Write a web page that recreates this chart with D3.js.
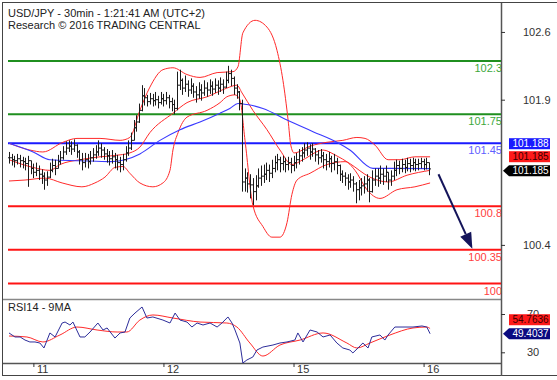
<!DOCTYPE html>
<html><head><meta charset="utf-8">
<script src="https://cdn.jsdelivr.net/npm/d3@7"></script>
<style>body{margin:0;background:#fff}svg{display:block;font-family:"Liberation Sans",Arial,sans-serif}</style>
</head><body><svg id="c" width="557" height="380"></svg>
<script>
// ---------- DATA ----------
const titleLines = ["USD/JPY - 30min - 1:21:41 AM (UTC+2)", "Research \u00a9 2016 TRADING CENTRAL"];
const rsiTitle = "RSI14 - 9MA";
const dayLabels = ["11", "12", "15", "16"];
const dayBarIndex = [9, 57, 105, 153];
const priceTicks = [102.6, 101.9, 100.4];
const rsiTicks = [70, 30];

const closes = [101.30,101.28,101.27,101.29,101.27,101.26,101.24,101.27,101.19,101.15,
101.17,101.13,101.11,101.07,101.10,101.17,101.22,101.19,101.26,101.30,
101.36,101.40,101.42,101.39,101.43,101.36,101.28,101.25,101.28,101.26,
101.30,101.33,101.36,101.40,101.38,101.34,101.32,101.29,101.31,101.28,
101.25,101.23,101.28,101.35,101.40,101.48,101.61,101.67,101.79,101.94,
101.92,101.88,101.91,101.89,101.90,101.87,101.91,101.89,101.92,101.88,
101.85,101.81,102.05,102.10,102.02,102.06,102.00,102.04,101.98,101.95,
102.00,101.97,102.02,102.00,102.04,102.01,102.05,102.02,102.06,102.03,
102.10,102.17,102.12,102.02,101.98,101.86,101.05,101.09,101.03,101.02,
100.95,101.01,101.09,101.11,101.13,101.17,101.14,101.19,101.25,101.28,
101.24,101.26,101.23,101.25,101.22,101.25,101.28,101.32,101.35,101.38,
101.40,101.36,101.39,101.33,101.30,101.32,101.28,101.26,101.29,101.24,
101.26,101.22,101.13,101.11,101.09,101.05,101.07,101.03,100.97,100.99,
101.01,101.03,101.07,100.95,101.07,101.11,101.09,101.13,101.11,101.15,
101.07,101.11,101.17,101.22,101.19,101.23,101.20,101.24,101.22,101.25,
101.23,101.24,101.26,101.23,101.25,101.185];

const highs = [101.36,101.34,101.32,101.34,101.33,101.31,101.30,101.32,101.27,101.24,
101.25,101.22,101.18,101.15,101.16,101.25,101.29,101.28,101.33,101.37,
101.42,101.47,101.48,101.47,101.49,101.44,101.38,101.35,101.35,101.34,
101.37,101.40,101.43,101.48,101.45,101.41,101.39,101.37,101.38,101.35,
101.33,101.31,101.34,101.42,101.48,101.56,101.69,101.74,101.86,102.05,
102.02,101.95,101.97,101.96,101.98,101.94,101.98,101.96,101.98,101.95,
101.92,101.90,102.19,102.21,102.12,102.15,102.10,102.12,102.07,102.04,
102.08,102.06,102.10,102.08,102.11,102.09,102.12,102.10,102.13,102.11,
102.19,102.25,102.21,102.14,102.06,101.99,101.90,101.19,101.15,101.13,
101.09,101.12,101.19,101.22,101.23,101.25,101.23,101.28,101.32,101.34,
101.31,101.32,101.30,101.31,101.30,101.32,101.35,101.39,101.41,101.45,
101.46,101.44,101.45,101.40,101.38,101.39,101.36,101.34,101.36,101.32,
101.34,101.30,101.23,101.17,101.15,101.13,101.14,101.11,101.05,101.07,
101.09,101.11,101.13,101.09,101.17,101.19,101.19,101.22,101.19,101.22,
101.15,101.17,101.26,101.28,101.27,101.29,101.28,101.30,101.29,101.30,
101.29,101.29,101.30,101.29,101.30,101.25];

const lows = [101.24,101.22,101.20,101.23,101.20,101.19,101.17,101.00,101.13,101.09,
101.11,101.07,101.03,100.97,101.01,101.09,101.15,101.12,101.19,101.23,
101.28,101.33,101.36,101.33,101.36,101.30,101.23,101.17,101.20,101.19,
101.23,101.26,101.29,101.32,101.30,101.28,101.25,101.22,101.24,101.19,
101.17,101.15,101.17,101.26,101.32,101.38,101.48,101.57,101.66,101.78,
101.84,101.83,101.85,101.83,101.84,101.81,101.85,101.83,101.85,101.81,
101.78,101.75,101.79,102.00,101.95,101.98,101.93,101.96,101.92,101.87,
101.91,101.89,101.94,101.93,101.96,101.94,101.97,101.95,101.98,101.96,
102.02,102.07,102.04,101.95,101.91,101.79,100.95,100.95,100.94,100.88,
100.81,100.86,100.99,101.01,101.04,101.07,101.05,101.09,101.15,101.17,
101.15,101.17,101.15,101.17,101.14,101.16,101.19,101.23,101.26,101.30,
101.32,101.28,101.31,101.26,101.23,101.25,101.19,101.17,101.20,101.15,
101.17,101.13,101.06,101.04,101.01,100.97,100.99,100.95,100.83,100.86,
100.91,100.93,100.95,100.84,100.94,101.01,101.00,101.03,101.02,101.05,
100.97,101.01,101.07,101.11,101.13,101.15,101.14,101.16,101.15,101.17,
101.16,101.17,101.19,101.17,101.18,101.12];

// Bollinger bands & moving average: [bar index, price]
const bbUpper = [[0,101.45],[7.7,101.38],[12.5,101.36],[19.9,101.46],[25.1,101.50],[33.6,101.50],[41,101.48],[44.6,101.51],[48.3,101.79],[52,102.03],[56.8,102.21],[60.5,102.23],[65.7,102.16],[70.5,102.13],[76.8,102.18],[82.7,102.19],[84.5,102.24],[86.3,102.59],[90.8,102.72],[95.2,102.65],[98.9,102.41],[101.1,102.10],[103,101.69],[104,101.43],[105.2,101.35],[111.1,101.42],[117.3,101.46],[123.2,101.48],[128.4,101.51],[131.4,101.50],[135.1,101.43],[139.9,101.28],[144.3,101.28],[149.8,101.31],[155.4,101.31]];
const bbMiddle = [[0,101.28],[8.9,101.20],[15.1,101.17],[18.8,101.23],[26.2,101.28],[33.6,101.31],[41,101.33],[44.6,101.35],[48.3,101.41],[52,101.56],[60.5,101.76],[65.7,101.87],[73.1,101.93],[80.4,102.02],[84.1,102.05],[86,101.97],[90,101.79],[95.2,101.59],[100,101.38],[104.4,101.23],[108.5,101.28],[115.9,101.38],[120.3,101.33],[125.8,101.24],[133.2,101.10],[139.9,101.05],[146.9,101.12],[155.4,101.17]];
const bbLower = [[0,101.06],[5.9,101.07],[13.3,101.09],[19.6,101.04],[26.9,101.00],[31.7,101.04],[35.4,101.10],[39.1,101.20],[42.1,101.21],[44.6,101.14],[48.3,101.04],[53.1,101.00],[56.8,101.04],[59.4,101.17],[60.5,101.38],[62.4,101.56],[65.7,101.72],[73.1,101.79],[77.9,101.87],[80.4,101.93],[83.4,101.95],[85.2,101.90],[87.1,101.48],[90,100.81],[93.7,100.59],[97,100.48],[100,100.48],[102.6,100.63],[104.4,100.92],[106.3,101.07],[111.1,101.14],[117.3,101.23],[124,101.26],[127.7,101.17],[132.1,100.97],[136.9,100.88],[143.2,100.97],[149.8,101.00],[155.4,101.04]];
const maLine = [[0,101.45],[8.9,101.36],[15.1,101.28],[26.2,101.27],[37.3,101.26],[42.8,101.28],[48.3,101.34],[55.7,101.48],[63.1,101.59],[70.5,101.67],[77.9,101.76],[81.5,101.81],[84.5,101.86],[87.8,101.85],[93.7,101.81],[102.6,101.69],[112.2,101.57],[121,101.46],[125.8,101.38],[134.3,101.19],[140.6,101.19],[155.4,101.188]];

// RSI(14) and its 9-period MA: [bar index, value]
const rsi = [[0,50.2],[2.2,46.0],[4.1,46.0],[5.9,42.8],[7.7,40.8],[9.6,40.8],[11.4,39.7],[12.9,34.5],[15.1,50.2],[17,46.0],[19.6,60.6],[20.7,61.6],[22.5,58.5],[23.6,61.6],[26.2,46.0],[28,46.0],[29.9,51.2],[32.8,60.6],[34.7,53.3],[36.2,55.4],[39.1,44.9],[41,50.2],[42.8,51.2],[44.6,65.8],[46.5,71.0],[49.1,77.3],[50.9,65.8],[53.1,66.9],[56.8,63.7],[59.4,60.6],[61.3,71.0],[63.1,63.7],[65.7,61.6],[67.5,56.4],[69.4,60.6],[71.6,58.5],[74.2,60.6],[76.8,56.4],[78.6,60.6],[80.8,66.9],[82.3,60.6],[83.4,53.3],[85.2,39.7],[86.3,18.8],[87.8,22.0],[90,25.1],[91.5,32.4],[93.7,35.5],[97.4,37.6],[100,39.7],[102.6,40.8],[105.5,42.8],[106.6,50.2],[108.5,40.8],[111.1,53.3],[113.7,51.2],[115.9,46.0],[118.5,48.1],[121,39.7],[123.2,34.5],[125.8,32.4],[126.9,29.3],[128.8,34.5],[130.6,39.7],[132.5,34.5],[133.9,46.0],[136.9,48.1],[138.7,42.8],[139.9,48.1],[142.4,56.4],[145.4,56.4],[149.1,56.4],[152.4,57.5],[154.2,56.4],[155.4,49.4037]];
const rsiMA = [[0,47.0],[6.6,46.0],[12.5,40.8],[18.8,48.1],[25.1,56.4],[32.5,53.3],[39.9,51.2],[43.5,51.2],[48.3,63.7],[53.1,69.0],[60.5,65.8],[70.5,61.6],[80.4,60.6],[84.1,56.4],[88.9,39.7],[93.7,26.1],[100,37.6],[107.4,42.8],[115.9,50.2],[124.7,39.7],[128.4,34.5],[133.2,39.7],[140.6,48.1],[149.1,55.4],[154.2,56.4],[155.4,54.7636]];

const levelsGreen = [102.3, 101.75];
const levelsBlue = [101.45];
const levelsRed = [100.8, 100.35, 100];
const levelLabels = {"102.3":"102.3","101.75":"101.75","101.45":"101.45","100.8":"100.8","100.35":"100.35","100":"100"};
const arrowFrom = [158.5, 101.13];
const arrowTo = [171, 100.36];
const lastMA = 101.188, lastClose = 101.185;
const lastRSI = 49.4037, lastRSIMA = 54.7636;

// ---------- LAYOUT ----------
const svg = d3.select("#c");
const L = 8, R = 501, T = 3, MB = 299, RB = 363;
const x = d3.scaleLinear().domain([0, 155]).range([9, 429]);
const y = d3.scaleLinear().domain([99.841, 102.899]).range([MB, T]);
const yr = d3.scaleLinear().domain([30, 70]).range([352.3, 314]);

const defs = svg.append("defs");
defs.append("clipPath").attr("id","cm").append("rect").attr("x",L).attr("y",T).attr("width",R-L).attr("height",MB-T);
defs.append("clipPath").attr("id","cr").append("rect").attr("x",L).attr("y",MB+1).attr("width",R-L).attr("height",RB-MB-1);

// frame
svg.append("rect").attr("x",2.5).attr("y",2.5).attr("width",570).attr("height",373).attr("fill","none").attr("stroke","#444");
svg.append("line").attr("x1",3).attr("x2",R).attr("y1",MB+0.5).attr("y2",MB+0.5).attr("stroke","#888").attr("stroke-width",1.5);
svg.append("line").attr("x1",3).attr("x2",R).attr("y1",RB+0.5).attr("y2",RB+0.5).attr("stroke","#555").attr("stroke-width",1.5);
svg.append("line").attr("x1",R+0.5).attr("x2",R+0.5).attr("y1",3).attr("y2",376).attr("stroke","#555").attr("stroke-width",1.5);

// titles
svg.append("g").selectAll("text").data(titleLines).join("text")
  .attr("x",8).attr("y",(d,i)=>17+i*11.5).attr("font-size",11).attr("fill","#222").text(d=>d);

const gm = svg.append("g").attr("clip-path","url(#cm)");

// level lines
function levels(arr, lineCol, textCol) {
  arr.forEach(v => {
    gm.append("line").attr("x1",L).attr("x2",R).attr("y1",y(v)).attr("y2",y(v)).attr("stroke",lineCol).attr("stroke-width",2);
    gm.append("text").attr("x",R+1).attr("y",y(v)+11).attr("text-anchor","end").attr("font-size",11).attr("fill",textCol).text(levelLabels[String(v)]);
  });
}
levels(levelsGreen, "#1f8f1f", "#3ca83c");
levels(levelsBlue, "#1a1aff", "#6060ff");
levels(levelsRed, "#ff1414", "#ff4040");

// bands
const ln = d3.line().x(d=>x(d[0])).y(d=>y(d[1])).curve(d3.curveMonotoneX);
[bbUpper, bbMiddle, bbLower].forEach(b => gm.append("path").attr("d", ln(b)).attr("fill","none").attr("stroke","#ff2a2a").attr("stroke-width",1));
gm.append("path").attr("d", ln(maLine)).attr("fill","none").attr("stroke","#3a3aff").attr("stroke-width",1.1);

// OHLC bars
let p = "";
closes.forEach((c,i) => {
  const o = i ? closes[i-1] : c;
  const xi = Math.round(x(i)) + 0.5;
  const hi = Math.max(highs[i], o, c), lo = Math.min(lows[i], o, c);
  p += `M${xi},${y(hi)}V${y(lo)}M${xi-1.5},${y(o)}H${xi}M${xi},${y(c)}H${xi+1.5}`;
});
gm.append("path").attr("d",p).attr("fill","none").attr("stroke","#1c1c1c").attr("stroke-width",1);

// arrow
const ax1 = x(arrowFrom[0]), ay1 = y(arrowFrom[1]), ax2 = x(arrowTo[0]), ay2 = y(arrowTo[1]);
const ang = Math.atan2(ay2-ay1, ax2-ax1);
const hl = 16, hw = 6;
const bx = ax2 - hl*Math.cos(ang), by = ay2 - hl*Math.sin(ang);
gm.append("line").attr("x1",ax1).attr("y1",ay1).attr("x2",bx).attr("y2",by).attr("stroke","#14145a").attr("stroke-width",2);
gm.append("path").attr("d",`M${ax2},${ay2}L${bx+hw*Math.sin(ang)},${by-hw*Math.cos(ang)}L${bx-hw*Math.sin(ang)},${by+hw*Math.cos(ang)}Z`).attr("fill","#14145a");

// price axis
const pa = svg.append("g").attr("transform",`translate(${R},0)`)
  .call(d3.axisRight(y).tickValues(priceTicks).tickSize(4).tickPadding(18).tickFormat(d3.format(".1f")));
pa.select(".domain").remove();
pa.selectAll("text").attr("font-size",11).attr("fill","#333").attr("font-family","Liberation Sans, Arial, sans-serif");
pa.selectAll("line").attr("stroke","#333");

// RSI panel
svg.append("text").attr("x",8).attr("y",311).attr("font-size",11).attr("fill","#222").text(rsiTitle);
const gr = svg.append("g").attr("clip-path","url(#cr)");
const lr = d3.line().x(d=>x(d[0])).y(d=>yr(d[1]));
gr.append("path").attr("d", lr.curve(d3.curveMonotoneX)(rsiMA)).attr("fill","none").attr("stroke","#ff2a2a").attr("stroke-width",1);
gr.append("path").attr("d", d3.line().x(d=>x(d[0])).y(d=>yr(d[1]))(rsi)).attr("fill","none").attr("stroke","#2d2d9a").attr("stroke-width",1);

const ra = svg.append("g").attr("transform",`translate(${R},0)`)
  .call(d3.axisRight(yr).tickValues(rsiTicks).tickSize(4).tickPadding(22));
ra.select(".domain").remove();
ra.selectAll("text").attr("font-size",11).attr("fill","#333").attr("font-family","Liberation Sans, Arial, sans-serif");
ra.selectAll("line").attr("stroke","#333");

// time axis
const ta = svg.append("g").attr("transform",`translate(0,${RB})`)
  .call(d3.axisBottom(x).tickValues(dayBarIndex).tickSize(4).tickFormat((d,i)=>dayLabels[i]));
ta.select(".domain").remove();
ta.selectAll("line").attr("stroke","#333");
ta.selectAll("text").attr("text-anchor","start").attr("x",3).attr("y",2).attr("dy","0.71em").attr("font-size",11).attr("fill","#333").attr("font-family","Liberation Sans, Arial, sans-serif");

// value boxes
function box(cy, txt, bg, fg, pointer) {
  const g = svg.append("g");
  const x0 = 509, x1 = 550, h = 11;
  if (pointer) {
    g.append("path").attr("d",`M503,${cy}L${x0},${cy-h/2}H${x1}V${cy+h/2}H${x0}Z`).attr("fill",bg);
  } else {
    g.append("rect").attr("x",x0).attr("y",cy-h/2).attr("width",x1-x0).attr("height",h).attr("fill",bg);
  }
  g.append("text").attr("x",(x0+x1)/2+1).attr("y",cy+3.6).attr("text-anchor","middle").attr("font-size",10).attr("fill",fg).text(txt);
}
const cBlack = y(lastClose) + 1.8;
box(cBlack, lastClose.toFixed(3), "#000", "#fff", true);
box(cBlack - 14, lastClose.toFixed(3), "#ff1a1a", "#3a0000", false);
box(cBlack - 27, lastMA.toFixed(3), "#1a1aff", "#fff", false);
const cNavy = yr(lastRSI);
box(cNavy, lastRSI.toFixed(4), "#0a0a80", "#fff", true);
box(cNavy - 14, lastRSIMA.toFixed(4), "#ff1a1a", "#3a0000", false);
</script></body></html>
